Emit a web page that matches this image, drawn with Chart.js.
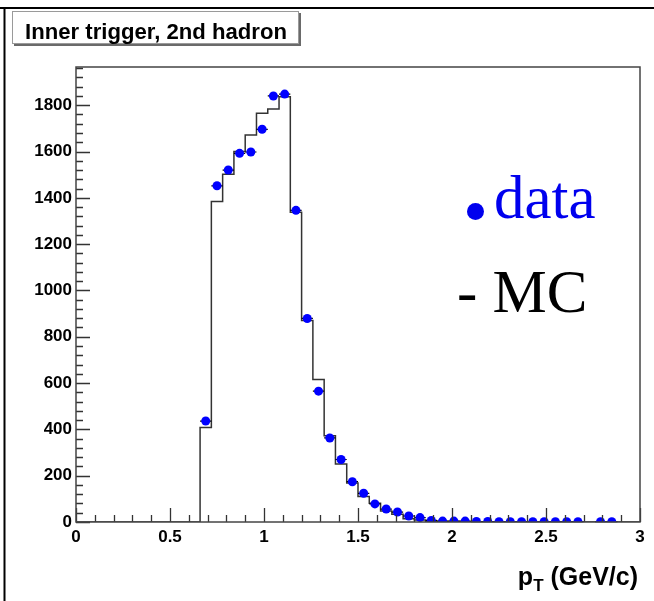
<!DOCTYPE html>
<html>
<head>
<meta charset="utf-8">
<script src="https://cdn.jsdelivr.net/npm/chart.js@4.4.1/dist/chart.umd.min.js"></script>
<style>
  html, body { margin: 0; padding: 0; background: #fff; }
  #wrap { position: relative; width: 654px; height: 601px; overflow: hidden; }
  #chart { position: absolute; left: 0; top: 0; }
  .lbl { position: absolute; white-space: nowrap; line-height: 1; }
  #titleBox { position: absolute; left: 12px; top: 11px; width: 285px; height: 31px;
    border: 1px solid #9a9a9a; box-shadow: 2px 2px 0 #6a6a6a; background: #fff; }
  #title { left: 25px; top: 19px; font: bold 22px "Liberation Sans", Arial, sans-serif; transform-origin: 0 0; }
  .leg { font-family: "Liberation Serif", "Times New Roman", serif; font-size: 61px; }
  #legData { left: 494px; top: 167px; color: #0000ee; }
  #legMC { left: 457px; top: 261px; color: #000; }
  #legDot { position: absolute; left: 467px; top: 203px; width: 17px; height: 17px; border-radius: 50%; background: #0000ee; }
  #xTitle { right: 16px; top: 562px; font: bold 25px "Liberation Sans", Arial, sans-serif; }
  #xTitle sub { font-size: 17px; vertical-align: -6px; line-height: 0; }
</style>
</head>
<body>
<div id="wrap">
  <canvas id="chart" width="654" height="601"></canvas>
  <div id="titleBox"></div>
  <span class="lbl" id="title">Inner trigger, 2nd hadron</span>
  <div id="legDot"></div>
  <span class="lbl leg" id="legData">data</span>
  <span class="lbl leg" id="legMC">- MC</span>
  <span class="lbl" id="xTitle">p<sub>T</sub> (GeV/c)</span>
</div>
<script>
// histogram bins (pT bin centres, GeV/c), 0.06 wide
const ptBins = [0.69, 0.75, 0.81, 0.87, 0.93, 0.99, 1.05, 1.11, 1.17, 1.23,
  1.29, 1.35, 1.41, 1.47, 1.53, 1.59, 1.65, 1.71, 1.77, 1.83,
  1.89, 1.95, 2.01, 2.07, 2.13, 2.19, 2.25, 2.31, 2.37, 2.43,
  2.49, 2.55, 2.61, 2.67, 2.73, 2.79, 2.85];
const binWidth = 0.06;

const dataCounts = [436, 1452, 1520, 1592, 1598, 1696, 1840, 1848, 1346, 879,
  565, 363, 270, 174, 124, 78, 56, 43, 26, 19,
  7, 4, 4, 4, 2, 2, 1, 1, 1, 1,
  1, 1, 1, 1, null, 1, 1];
const mcCounts = [408, 1384, 1502, 1600, 1671, 1765, 1784, 1836, 1338, 870,
  615, 373, 250, 168, 110, 81, 48, 33, 14, 9,
  3, 2, 2, 1, 1, 1, 1, 0, 0, 0,
  0, 0, 0, 0, 0, 0, 0];

const xTickValues = [0, 0.5, 1, 1.5, 2, 2.5, 3];
const yTickValues = [0, 200, 400, 600, 800, 1000, 1200, 1400, 1600, 1800];
const xRange = [0, 3];
const yRange = [0, 1965];

// histogram outline as a stepped line through the bin edges
const mcLine = [{ x: xRange[0], y: 0 }];
ptBins.forEach((c, i) => mcLine.push({ x: c - binWidth / 2, y: mcCounts[i] }));
mcLine.push({ x: ptBins[ptBins.length - 1] + binWidth / 2, y: 0 }, { x: xRange[1], y: 0 });

const dataPoints = ptBins
  .map((c, i) => ({ x: c, y: dataCounts[i] }))
  .filter((p) => p.y != null);

const tickFont = { family: '"Liberation Sans", Arial, sans-serif', size: 17, weight: 'bold' };

const rootFrame = {
  id: 'rootFrame',
  beforeDraw(chart) {
    const ctx = chart.ctx;
    ctx.save();
    ctx.strokeStyle = '#000';
    ctx.lineWidth = 2;
    ctx.beginPath();
    ctx.moveTo(0, 8); ctx.lineTo(654, 8);
    ctx.moveTo(4.5, 8); ctx.lineTo(4.5, 601);
    ctx.stroke();
    ctx.restore();
  },
  beforeDatasetDraw(chart, args) {
    if (args.index !== 0) return;
    // horizontal x-error bars of the data points
    const { ctx, scales: { x, y } } = chart;
    ctx.save();
    ctx.strokeStyle = '#000';
    ctx.lineWidth = 1.2;
    ctx.beginPath();
    dataPoints.forEach((p) => {
      const py = y.getPixelForValue(p.y);
      ctx.moveTo(x.getPixelForValue(p.x - binWidth / 2), py);
      ctx.lineTo(x.getPixelForValue(p.x + binWidth / 2), py);
    });
    ctx.stroke();
    ctx.restore();
  },
  afterDatasetsDraw(chart) {
    const { ctx, chartArea: a, scales: { x, y } } = chart;
    ctx.save();
    ctx.strokeStyle = '#333';
    ctx.lineWidth = 1.3;
    ctx.beginPath();
    for (let k = 0; k * 40 <= yRange[1]; k++) {
      const py = Math.round(y.getPixelForValue(k * 40)) + 0.5;
      const len = k % 5 === 0 ? 14 : 7;
      ctx.moveTo(a.left, py); ctx.lineTo(a.left + len, py);
    }
    for (let k = 0; k <= 30; k++) {
      const px = Math.round(x.getPixelForValue(k / 10)) + 0.5;
      const len = k % 5 === 0 ? 14 : 7;
      ctx.moveTo(px, a.bottom); ctx.lineTo(px, a.bottom - len);
    }
    ctx.stroke();
    ctx.strokeStyle = '#444';
    ctx.lineWidth = 1.5;
    ctx.strokeRect(a.left, a.top, a.right - a.left, a.bottom - a.top);
    ctx.restore();
  }
};

new Chart(document.getElementById('chart'), {
  type: 'scatter',
  data: {
    datasets: [
      {
        label: 'data',
        data: dataPoints,
        pointRadius: 4.5,
        pointBackgroundColor: '#0000ff',
        pointBorderWidth: 0,
      },
      {
        type: 'line',
        label: 'MC',
        data: mcLine,
        stepped: 'before',
        borderColor: '#333',
        borderWidth: 1.5,
        pointRadius: 0,
        fill: false,
      },
    ],
  },
  options: {
    responsive: false,
    devicePixelRatio: 1,
    animation: false,
    layout: { padding: { top: 67, right: 14, left: 0, bottom: 0 } },
    plugins: { legend: { display: false }, tooltip: { enabled: false } },
    scales: {
      x: {
        type: 'linear',
        min: xRange[0],
        max: xRange[1],
        grid: { display: false, drawTicks: false },
        border: { display: false },
        ticks: { font: tickFont, color: '#000', padding: 5, maxRotation: 0, autoSkip: false,
          callback: (v) => String(v) },
        afterBuildTicks: (s) => { s.ticks = xTickValues.map((v) => ({ value: v })); },
        afterFit: (s) => { s.height = 79; },
      },
      y: {
        type: 'linear',
        min: yRange[0],
        max: yRange[1],
        grid: { display: false, drawTicks: false },
        border: { display: false },
        ticks: { font: tickFont, color: '#000', padding: 4, autoSkip: false,
          callback: (v) => String(v) },
        afterBuildTicks: (s) => { s.ticks = yTickValues.map((v) => ({ value: v })); },
        afterFit: (s) => { s.width = 76; },
      },
    },
  },
  plugins: [rootFrame],
});

// squeeze the title to the narrow face used in the original
const t = document.getElementById('title');
t.style.transform = `scaleX(${262 / t.getBoundingClientRect().width})`;
</script>
</body>
</html>
